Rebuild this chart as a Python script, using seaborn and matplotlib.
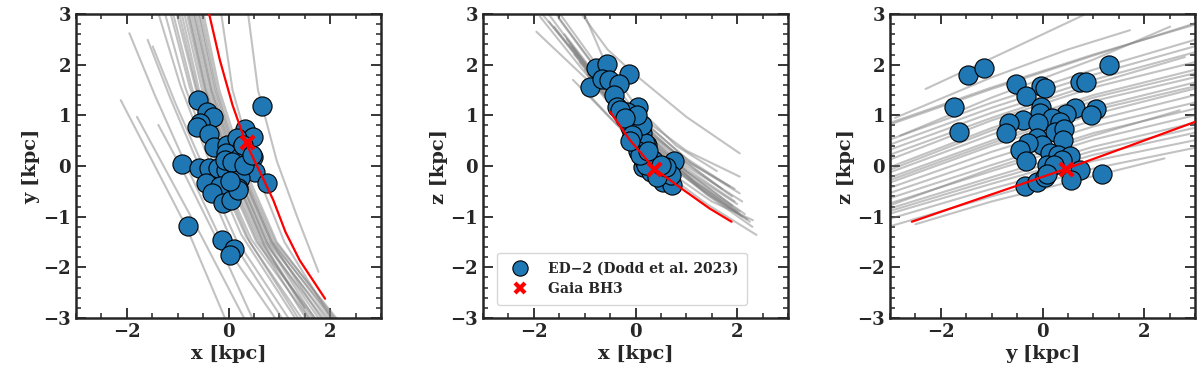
import matplotlib
matplotlib.use("Agg")
import matplotlib.pyplot as plt
from matplotlib.lines import Line2D
from matplotlib.ticker import MultipleLocator
import pandas as pd
import seaborn as sns

# ED-2 member stars
xy_x = [-0.60, 0.66, -0.43, -0.30, -0.56, -0.62, -0.38, 0.33, 0.48, -0.28, -0.03,
        0.16, 0.26, -0.04, 0.23, 0.43, 0.48, 0.52, 0.75, -0.91, -0.59, -0.38, -0.20,
        -0.05, 0.13, 0.23, -0.44, -0.17, -0.33, -0.10, 0.05, 0.18, -0.80, -0.13,
        0.10, 0.02, -0.06, 0.07, 0.30, 0.29, 0.46, 0.19, 0.03]
xy_y = [1.30, 1.19, 1.07, 0.96, 0.84, 0.76, 0.63, 0.74, 0.57, 0.37, 0.41, 0.55,
        0.37, 0.25, 0.18, 0.05, 0.18, -0.11, -0.34, 0.03, -0.03, -0.03, -0.03,
        -0.07, 0.02, -0.24, -0.33, -0.40, -0.54, -0.74, -0.67, -0.44, -1.18, -1.47,
        -1.64, -1.76, 0.12, 0.08, 0.02, 0.42, 0.22, -0.47, -0.30]

xz_x = [-0.78, -0.57, -0.13, -0.89, -0.65, -0.53, -0.32, -0.43, -0.37, 0.04, -0.17,
        -0.04, 0.12, 0.22, 0.25, 0.35, 0.75, 0.55, 0.72, 0.46, 0.70, 0.15, -0.30,
        0.09, -0.03, 0.19, 0.16, -0.10, 0.12, 0.03, -0.20, 0.05, 0.30, 0.42, 0.60,
        0.20, -0.06, 0.08, 0.50, 0.25, -0.10]
xz_z = [1.93, 2.01, 1.81, 1.55, 1.72, 1.70, 1.62, 1.40, 1.17, 1.17, 1.07, 0.86,
        0.65, 0.41, 0.18, 0.12, 0.09, -0.31, -0.37, -0.08, -0.18, -0.01, 1.11,
        0.51, 0.55, 0.45, 0.12, 0.77, 0.81, 1.01, 0.95, 0.30, -0.12, -0.22, -0.02,
        0.02, 0.62, 0.22, 0.02, 0.30, 0.50]

yz_y = [-1.46, -1.16, -1.75, -1.64, -0.53, -0.03, 0.05, -0.32, 0.74, 0.85, 1.30,
        -0.03, -0.05, 0.63, 1.06, 0.96, 0.46, 0.18, -0.38, -0.66, -0.08, -0.72,
        0.35, 0.25, 0.43, 0.41, -0.11, -0.01, -0.28, -0.45, -0.32, 0.15, 0.31,
        0.54, 0.39, 0.08, 0.22, 0.73, 0.56, 1.18, -0.34, -0.11, 0.05, 0.08]
yz_z = [1.80, 1.93, 1.16, 0.67, 1.61, 1.58, 1.54, 1.39, 1.66, 1.66, 1.99, 1.17,
        1.04, 1.15, 1.12, 1.00, 1.03, 0.94, 0.91, 0.84, 0.84, 0.65, 0.87, 0.68,
        0.74, 0.51, 0.55, 0.41, 0.45, 0.32, 0.09, 0.25, 0.22, 0.20, 0.11, 0.02,
        0.02, -0.07, -0.28, -0.15, -0.39, -0.32, -0.22, -0.15]

# Gaia BH3 position and orbit
bh3_x, bh3_y, bh3_z = 0.36, 0.47, -0.05
bh3_xy = [(-0.45, 3.3), (-0.17, 2.09), (0.08, 1.20), (0.34, 0.46), (0.62, -0.12),
          (0.88, -0.67), (1.12, -1.30), (1.40, -1.86), (1.90, -2.62)]
bh3_xz = [(-0.50, 1.07), (-0.11, 0.51), (0.37, -0.05), (0.94, -0.47), (1.46, -0.84), (1.89, -1.10)]
bh3_yz = [(-2.57, -1.10), (-1.0, -0.56), (0.48, -0.05), (1.8, 0.43), (3.3, 0.98)]

# orbits of the ED-2 stars in each projection
xy_orbits = [
    [(-2.12, 1.30), (-1.50, 0.10), (-0.83, -1.20), (-0.05, -3.05)],
    [(-1.80, 0.97), (-1.25, -0.05), (-0.55, -1.35), (0.33, -3.05)],
    [(-1.38, 0.81), (-0.92, -0.05), (-0.30, -1.30), (0.49, -3.05)],
    [(-1.95, 2.62), (-1.45, 1.40), (-0.85, 0.05), (-0.15, -1.45), (0.95, -3.05)],
    [(-1.59, 2.49), (-1.15, 1.35), (-0.60, 0.05), (0.05, -1.45), (1.08, -3.05)],
    [(-1.49, 2.36), (-1.05, 1.25), (-0.50, 0.00), (0.15, -1.45), (1.21, -3.05)],
    [(-1.39, 3.05), (-0.95, 1.60), (-0.40, 0.15), (0.25, -1.35), (1.34, -3.05)],
    [(-1.26, 3.05), (-0.85, 1.55), (-0.30, 0.05), (0.35, -1.40), (1.47, -3.05)],
    [(-1.10, 3.05), (-0.72, 1.55), (-0.20, 0.00), (0.45, -1.45), (1.61, -3.05)],
    [(-1.03, 3.05), (-0.65, 1.55), (-0.12, 0.00), (0.55, -1.50), (1.74, -3.05)],
    [(-0.93, 3.05), (-0.58, 1.50), (-0.05, 0.00), (0.62, -1.50), (1.68, -3.05)],
    [(-0.83, 3.05), (-0.48, 1.50), (0.03, 0.00), (0.70, -1.50), (1.90, -3.05)],
    [(-0.74, 3.05), (-0.40, 1.50), (0.10, 0.00), (0.78, -1.50), (2.00, -3.05)],
    [(-0.64, 3.05), (-0.32, 1.50), (0.18, 0.00), (0.85, -1.50), (2.10, -3.05)],
    [(-0.54, 3.05), (-0.22, 1.50), (0.25, 0.00), (0.92, -1.50), (2.16, -3.05)],
    [(-0.60, 3.05), (-0.28, 1.50), (0.20, 0.00), (0.85, -1.50), (1.85, -3.05)],
    [(-0.70, 3.05), (-0.36, 1.50), (0.12, 0.00), (0.75, -1.50), (1.80, -3.05)],
    [(-0.15, 3.05), (0.08, 1.50), (0.50, 0.00), (1.10, -1.50), (2.05, -3.05)],
    [(0.38, 3.05), (0.58, 1.50), (0.95, 0.10), (1.35, -1.00), (1.77, -2.09)],
    [(-0.98, 3.05), (-0.62, 1.52), (-0.08, 0.00), (0.58, -1.50), (1.55, -3.05)],
    [(-0.88, 3.05), (-0.52, 1.50), (0.00, 0.00), (0.66, -1.50), (1.62, -3.05)],
    [(-0.78, 3.05), (-0.44, 1.50), (0.07, 0.00), (0.74, -1.50), (1.72, -3.05)],
    [(-0.68, 3.05), (-0.34, 1.50), (0.15, 0.00), (0.82, -1.50), (1.95, -3.05)],
    [(-0.58, 3.05), (-0.25, 1.50), (0.22, 0.00), (0.88, -1.50), (2.05, -3.05)],
    [(-0.50, 3.05), (-0.18, 1.50), (0.30, 0.00), (0.95, -1.50), (2.12, -3.05)],
    [(-1.15, 3.05), (-0.76, 1.55), (-0.22, 0.00), (0.42, -1.50), (1.40, -3.05)],
    [(-0.80, 3.05), (-0.45, 1.50), (0.05, 0.00), (0.70, -1.55), (1.50, -2.80)],
]

xz_orbits = [
    [(-1.10, 3.05), (-0.55, 2.30), (-0.04, 1.83), (1.00, 0.97), (2.05, 0.25)],
    [(-1.88, 3.05), (-1.00, 2.00), (0.00, 1.05), (1.00, 0.30), (2.05, -0.21)],
    [(-1.52, 3.05), (-0.80, 2.05), (0.20, 0.85), (1.10, 0.05), (2.05, -0.54)],
    [(-1.95, 2.65), (-1.00, 1.75), (0.00, 0.85), (1.00, 0.10), (1.95, -0.45)],
    [(-1.03, 3.05), (-0.60, 2.05), (0.00, 1.20), (0.80, 0.40), (1.60, -0.10)],
    [(-1.23, 1.70), (-0.50, 0.95), (0.50, 0.00), (1.50, -0.70), (2.31, -1.07)],
    [(-1.03, 1.53), (-0.40, 0.85), (0.40, 0.00), (1.40, -0.75), (2.38, -1.36)],
    [(-1.88, 2.95), (-1.00, 1.85), (0.00, 0.75), (1.00, -0.10), (2.00, -0.75)],
    [(-1.70, 2.85), (-1.00, 1.95), (0.00, 0.95), (1.00, 0.05), (1.90, -0.60)],
    [(-1.60, 3.05), (-0.90, 2.10), (0.00, 1.00), (1.00, 0.15), (1.85, -0.40)],
    [(-1.40, 2.60), (-0.70, 1.70), (0.10, 0.75), (1.00, -0.10), (1.90, -0.78)],
    [(-1.30, 2.40), (-0.60, 1.50), (0.20, 0.55), (1.10, -0.25), (2.00, -0.90)],
    [(-1.20, 2.20), (-0.50, 1.35), (0.30, 0.40), (1.20, -0.35), (2.05, -0.95)],
    [(-1.00, 1.90), (-0.30, 1.05), (0.50, 0.20), (1.40, -0.55), (2.10, -1.00)],
    [(-0.90, 1.70), (-0.20, 0.85), (0.60, 0.05), (1.50, -0.60), (2.20, -1.05)],
    [(-1.50, 2.90), (-0.80, 1.95), (0.00, 0.95), (0.90, 0.15), (1.70, -0.45)],
    [(-1.75, 3.05), (-1.00, 2.05), (0.00, 0.90), (1.00, 0.00), (2.10, -0.70)],
    [(-1.35, 2.50), (-0.70, 1.65), (0.15, 0.65), (1.10, -0.20), (2.15, -0.95)],
    [(-1.10, 2.05), (-0.40, 1.20), (0.40, 0.30), (1.30, -0.45), (2.25, -1.10)],
    [(-1.60, 2.75), (-0.90, 1.85), (0.05, 0.80), (1.00, -0.05), (1.95, -0.70)],
    [(-0.95, 1.80), (-0.30, 1.00), (0.50, 0.15), (1.45, -0.60), (2.30, -1.20)],
    [(-1.25, 2.35), (-0.55, 1.45), (0.25, 0.50), (1.15, -0.30), (2.05, -0.90)],
]

yz_orbits = [
    [(-3.2, 0.75), (-1.0, 1.52), (1.0, 2.18), (3.2, 2.88)],
    [(-3.2, 0.78), (-1.0, 1.55), (1.0, 2.20), (3.2, 2.85)],
    [(-2.3, 1.52), (-0.8, 2.22), (0.81, 2.98)],
    [(-2.9, 0.95), (-1.0, 1.75), (0.5, 2.30), (1.72, 2.68)],
    [(-2.8, 0.60), (-1.0, 1.35), (1.0, 2.10), (2.51, 2.75)],
    [(-3.2, 0.45), (-1.0, 1.25), (1.0, 1.90), (3.2, 2.55)],
    [(-3.2, 0.35), (-1.0, 1.15), (1.0, 1.80), (3.2, 2.42)],
    [(-3.2, 0.25), (-1.0, 1.05), (1.0, 1.70), (3.2, 2.30)],
    [(-3.2, 0.15), (-1.0, 0.95), (1.0, 1.62), (2.8, 2.15)],
    [(-3.2, 0.05), (-1.0, 0.90), (1.0, 1.55), (3.2, 2.10)],
    [(-3.2, -0.10), (-1.0, 0.75), (1.0, 1.40), (3.2, 1.95)],
    [(-3.2, -0.15), (-1.0, 0.70), (1.0, 1.35), (3.2, 1.88)],
    [(-3.2, -0.20), (-1.0, 0.62), (1.0, 1.28), (3.2, 1.80)],
    [(-3.2, -0.30), (-1.0, 0.50), (1.0, 1.15), (3.2, 1.70)],
    [(-3.2, -0.35), (-1.0, 0.45), (1.0, 1.10), (3.2, 1.62)],
    [(-3.2, -0.40), (-1.0, 0.40), (1.0, 1.02), (3.2, 1.58)],
    [(-3.2, -0.50), (-1.0, 0.28), (1.0, 0.90), (3.2, 1.45)],
    [(-3.2, -0.60), (-1.0, 0.15), (1.0, 0.78), (3.2, 1.30)],
    [(-3.2, -0.70), (-1.0, 0.02), (1.0, 0.65), (3.2, 1.18)],
    [(-3.2, -0.80), (-1.0, -0.10), (1.0, 0.52), (3.2, 1.05)],
    [(-3.2, -0.85), (-1.0, -0.05), (1.0, 0.60), (2.7, 1.10)],
    [(-3.2, -0.90), (-1.0, -0.22), (1.0, 0.38), (3.2, 0.90)],
    [(-3.2, -0.95), (-1.0, -0.28), (1.0, 0.30), (3.2, 0.80)],
    [(-3.2, -1.00), (-1.0, -0.35), (1.0, 0.22), (3.2, 0.70)],
    [(-3.2, -1.10), (-1.0, -0.45), (1.0, 0.10), (3.2, 0.55)],
    [(-3.2, -1.25), (-1.0, -0.60), (1.0, -0.05), (3.2, 0.40)],
    [(-2.5, -1.15), (-1.0, -0.70), (1.0, -0.20), (2.4, 0.15)],
]

STAR_COLOR = "#1f77b4"


def orbits_frame(orbits):
    rows = []
    for i, orb in enumerate(orbits):
        for h, v in orb:
            rows.append({"orbit": i, "h": h, "v": v})
    return pd.DataFrame(rows)


def path_frame(path):
    return pd.DataFrame(path, columns=["h", "v"])


def style_axis(ax, xlabel, ylabel):
    ax.set_xlim(-3, 3)
    ax.set_ylim(-3, 3)
    ax.xaxis.set_major_locator(MultipleLocator(2))
    ax.xaxis.set_minor_locator(MultipleLocator(0.5))
    ax.yaxis.set_major_locator(MultipleLocator(1))
    ax.yaxis.set_minor_locator(MultipleLocator(0.2))
    ax.tick_params(which="both", direction="in", top=True, right=True, labelsize=13)
    ax.tick_params(which="major", length=7, width=1.3)
    ax.tick_params(which="minor", length=3.5, width=1.1)
    for s in ax.spines.values():
        s.set_linewidth(1.8)
    ax.set_xlabel(xlabel, fontsize=14, fontweight="bold", labelpad=3)
    ax.set_ylabel(ylabel, fontsize=14, fontweight="bold", labelpad=2)


def draw_panel(ax, orbits, sx, sy, red_path, bh3_h, bh3_v):
    sns.lineplot(data=orbits_frame(orbits), x="h", y="v", units="orbit",
                 estimator=None, sort=False, color="gray", alpha=0.48,
                 lw=1.5, ax=ax, zorder=1)
    sns.scatterplot(x=sx, y=sy, s=190, color=STAR_COLOR, edgecolor="black",
                    linewidth=0.8, ax=ax, zorder=3)
    sns.lineplot(data=path_frame(red_path), x="h", y="v", estimator=None,
                 sort=False, color="red", lw=1.6, ax=ax, zorder=4)
    ax.scatter([bh3_h], [bh3_v], marker="x", s=90, linewidths=3, color="red", zorder=5)


sns.set_style("ticks")
plt.rcParams["font.family"] = ["DejaVu Serif"]
plt.rcParams["font.weight"] = "bold"
plt.rcParams["axes.labelweight"] = "bold"

fig = plt.figure(figsize=(12, 3.83), dpi=100)
w, h = 305 / 1200, 304 / 383
bottom = 65 / 383
ax1 = fig.add_axes([76 / 1200, bottom, w, h])
ax2 = fig.add_axes([483 / 1200, bottom, w, h])
ax3 = fig.add_axes([890 / 1200, bottom, w, h])

draw_panel(ax1, xy_orbits, xy_x, xy_y, bh3_xy, bh3_x, bh3_y)
draw_panel(ax2, xz_orbits, xz_x, xz_z, bh3_xz, bh3_x, bh3_z)
draw_panel(ax3, yz_orbits, yz_y, yz_z, bh3_yz, bh3_y, bh3_z)

style_axis(ax1, "x [kpc]", "y [kpc]")
style_axis(ax2, "x [kpc]", "z [kpc]")
style_axis(ax3, "y [kpc]", "z [kpc]")

handles = [
    Line2D([], [], ls="none", marker="o", ms=11, mfc=STAR_COLOR, mec="black", mew=0.8),
    Line2D([], [], ls="none", marker="x", ms=7, mew=3, color="red"),
]
ax2.legend(handles, ["ED\u22122 (Dodd et al. 2023)", "Gaia BH3"], loc="lower left",
           bbox_to_anchor=(0.046, 0.043), borderaxespad=0, fontsize=10, frameon=True,
           handletextpad=1.0, borderpad=0.65, labelspacing=0.45)

fig.savefig("out.png", dpi=100)
